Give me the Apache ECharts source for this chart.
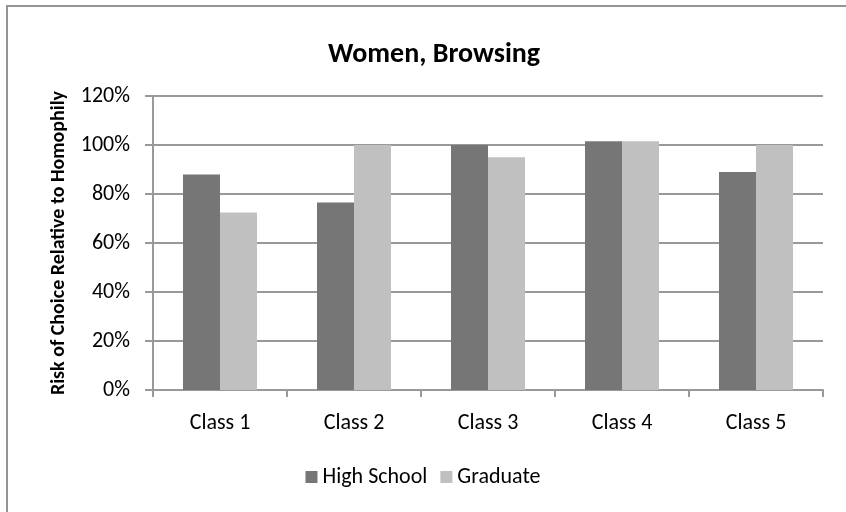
<!DOCTYPE html>
<html>
<head>
<meta charset="utf-8">
<script src="https://cdn.jsdelivr.net/npm/echarts@6/dist/echarts.min.js"></script>
<style>
  html, body { margin: 0; padding: 0; background: #ffffff; }
  #chart { width: 846px; height: 512px; }
</style>
</head>
<body>
<div id="chart"></div>
<script>
// Risk of choice relative to homophily, women browsing, by class and education
var categories = ['Class 1', 'Class 2', 'Class 3', 'Class 4', 'Class 5'];
var highSchool = [88, 76.5, 100, 101.5, 89];
var graduate = [72.5, 100, 95, 101.5, 100];
var yTicks = { min: 0, max: 120, interval: 20 };

var FONT = 'Carlito, Calibri, Lato, sans-serif';
var GRID_GREY = '#999999';

var chart = echarts.init(document.getElementById('chart'), null, { renderer: 'canvas' });

chart.setOption({
  backgroundColor: '#ffffff',
  animation: false,
  title: {
    text: 'Women, Browsing',
    left: 429,
    top: 36,
    textAlign: 'center',
    textStyle: { fontFamily: FONT, fontWeight: 'bold', fontSize: 28, color: '#000000' }
  },
  graphic: [{
    type: 'rect',
    silent: true,
    shape: { x: 7, y: 6, width: 900, height: 600 },
    style: { fill: 'none', stroke: '#959595', lineWidth: 2 }
  }],
  legend: {
    data: ['High School', 'Graduate'],
    left: 'center',
    top: 461,
    itemWidth: 12,
    itemHeight: 12,
    itemGap: 13,
    icon: 'rect',
    textStyle: { fontFamily: FONT, fontSize: 22, color: '#000000' }
  },
  grid: { left: 153, right: 23, top: 96, bottom: 122, containLabel: false },
  xAxis: {
    type: 'category',
    data: categories,
    axisLine: { show: true, lineStyle: { color: GRID_GREY, width: 2 } },
    axisTick: { show: true, alignWithLabel: false, length: 7, lineStyle: { color: GRID_GREY, width: 2 } },
    axisLabel: { margin: 22, fontFamily: FONT, fontSize: 22, color: '#000000' },
    splitLine: { show: false }
  },
  yAxis: {
    type: 'value',
    min: yTicks.min,
    max: yTicks.max,
    interval: yTicks.interval,
    name: 'Risk of Choice Relative to Homophily',
    nameLocation: 'middle',
    nameGap: 84,
    nameTextStyle: { fontFamily: FONT, fontWeight: 'bold', fontSize: 20, color: '#000000' },
    axisLine: { show: true, lineStyle: { color: GRID_GREY, width: 2 } },
    axisTick: { show: true, inside: false, length: 8, lineStyle: { color: GRID_GREY, width: 2 } },
    axisLabel: { margin: 23, formatter: '{value}%', fontFamily: FONT, fontSize: 22, color: '#000000' },
    splitLine: { show: true, lineStyle: { color: GRID_GREY, width: 2 } }
  },
  series: [
    {
      name: 'High School',
      type: 'bar',
      data: highSchool,
      barWidth: 37,
      barGap: '0%',
      itemStyle: { color: '#767676' }
    },
    {
      name: 'Graduate',
      type: 'bar',
      data: graduate,
      barWidth: 37,
      barGap: '0%',
      itemStyle: { color: '#c0c0c0' }
    }
  ]
});
</script>
</body>
</html>
